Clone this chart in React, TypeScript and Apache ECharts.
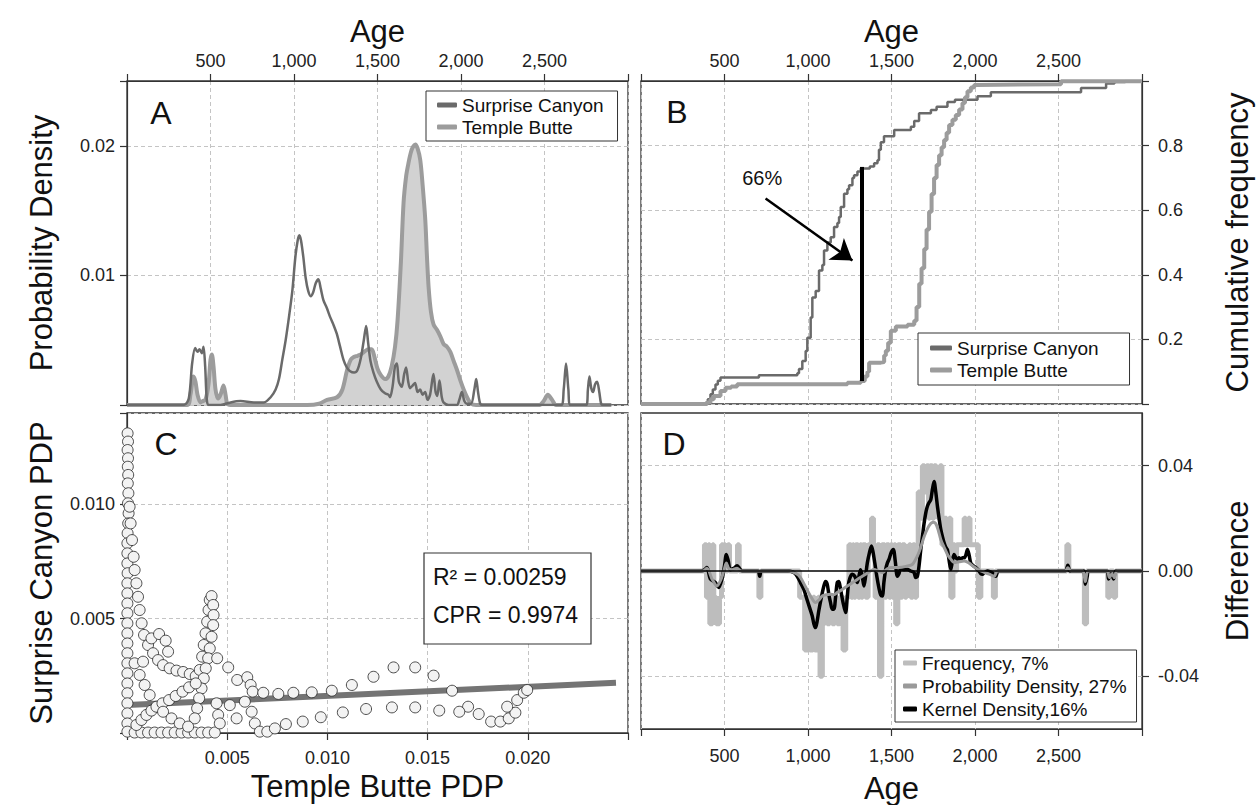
import React, { useEffect, useRef } from 'react';
import * as echarts from 'echarts';

const FONT = '"Liberation Sans", Arial, Helvetica, sans-serif';

// ---------- Panel A : probability density (age vs density) ----------
const SC_PDP_AGE = [0, 340, 370, 390, 408, 422, 434, 448, 458, 468, 478, 490, 560, 620, 680, 760, 820, 860, 890, 910, 930, 950, 970, 990, 1008, 1022, 1032, 1042, 1055, 1070, 1085, 1100, 1115, 1130, 1146, 1160, 1176, 1196, 1216, 1236, 1256, 1276, 1296, 1316, 1336, 1360, 1380, 1400, 1418, 1432, 1444, 1458, 1476, 1496, 1520, 1545, 1565, 1575, 1590, 1605, 1616, 1628, 1645, 1660, 1671, 1684, 1695, 1710, 1725, 1740, 1755, 1770, 1785, 1800, 1815, 1835, 1848, 1858, 1871, 1885, 1895, 1925, 1975, 1990, 2005, 2020, 2035, 2060, 2080, 2091, 2102, 2115, 2130, 2600, 2615, 2629, 2643, 2655, 2750, 2760, 2769, 2780, 2791, 2803, 2815, 2828, 2839, 2850, 2900];
const SC_PDP_VAL = [0, 0, 0.0005, 0.0032, 0.0044, 0.0041, 0.0043, 0.004, 0.0045, 0.003, 0.0004, 0, 0, 0.0002, 0.0003, 0.0002, 0.0002, 0.0006, 0.0012, 0.002, 0.0035, 0.005, 0.0068, 0.0088, 0.0114, 0.0127, 0.0131, 0.0127, 0.0115, 0.0098, 0.0088, 0.0084, 0.0087, 0.0094, 0.0097, 0.009, 0.0081, 0.0075, 0.0068, 0.0062, 0.0055, 0.0045, 0.0035, 0.0029, 0.0026, 0.0025, 0.0027, 0.0036, 0.005, 0.0061, 0.0048, 0.0034, 0.0025, 0.0018, 0.0012, 0.0009, 0.0008, 0.0006, 0.0014, 0.003, 0.0032, 0.0018, 0.0014, 0.0024, 0.0029, 0.0018, 0.0013, 0.0015, 0.0017, 0.001, 0.0012, 0.0008, 0.001, 0.0004, 0.0008, 0.0024, 0.001, 0.0007, 0.0019, 0.0006, 0.0002, 0, 0, 0.0004, 0.001, 0.0003, 0.0001, 0.0001, 0.0012, 0.002, 0.001, 0.0001, 0, 0, 0.0012, 0.0032, 0.0012, 0, 0, 0.0012, 0.0022, 0.0013, 0.001, 0.0016, 0.0018, 0.001, 0.0001, 0, 0];
const TB_PDP_AGE = [0, 360, 380, 398, 410, 422, 440, 454, 470, 488, 500, 508, 518, 530, 545, 560, 578, 590, 600, 620, 1080, 1150, 1198, 1258, 1290, 1318, 1340, 1358, 1380, 1400, 1420, 1446, 1465, 1480, 1500, 1520, 1545, 1565, 1585, 1605, 1620, 1640, 1656, 1672, 1686, 1700, 1712, 1726, 1740, 1756, 1770, 1786, 1796, 1806, 1820, 1836, 1856, 1876, 1896, 1916, 1936, 1956, 1976, 1996, 2016, 2040, 2060, 2090, 2470, 2495, 2520, 2545, 2570, 2900];
const TB_PDP_VAL = [0, 0, 0.0008, 0.0022, 0.0018, 0.0008, 0.0002, 0.0003, 0.0004, 0.0016, 0.0035, 0.0039, 0.003, 0.0012, 0.0005, 0.0008, 0.0015, 0.0008, 0.0001, 0, 0, 0.0001, 0.0004, 0.0006, 0.0012, 0.0027, 0.0035, 0.0037, 0.0038, 0.0039, 0.0041, 0.0043, 0.0043, 0.0038, 0.0028, 0.0023, 0.002, 0.0022, 0.003, 0.0045, 0.0065, 0.011, 0.0156, 0.0177, 0.0187, 0.0195, 0.0199, 0.0201, 0.0198, 0.0189, 0.017, 0.0143, 0.0115, 0.0091, 0.0072, 0.0062, 0.0058, 0.0053, 0.0047, 0.0045, 0.0041, 0.0034, 0.0027, 0.0019, 0.0012, 0.0005, 0.0001, 0, 0, 0.0003, 0.0008, 0.0004, 0, 0];

// ---------- Panel B : cumulative frequency ----------
const SC_CDF_AGE = [0, 386, 400, 416, 430, 446, 460, 476, 706, 936, 946, 966, 986, 996, 1016, 1026, 1046, 1066, 1086, 1096, 1116, 1136, 1156, 1176, 1186, 1196, 1216, 1236, 1246, 1266, 1276, 1296, 1316, 1370, 1396, 1416, 1425, 1436, 1455, 1516, 1616, 1636, 1665, 1736, 1770, 1835, 1880, 2015, 2095, 2635, 2785, 2835, 2900, 3000];
const SC_CDF_VAL = [0, 0.004, 0.015, 0.03, 0.045, 0.06, 0.072, 0.082, 0.089, 0.095, 0.108, 0.133, 0.164, 0.205, 0.268, 0.33, 0.35, 0.413, 0.43, 0.475, 0.5, 0.516, 0.548, 0.56, 0.579, 0.61, 0.651, 0.665, 0.677, 0.7, 0.708, 0.72, 0.729, 0.735, 0.745, 0.755, 0.787, 0.81, 0.829, 0.848, 0.858, 0.876, 0.9, 0.91, 0.92, 0.935, 0.942, 0.953, 0.965, 0.978, 0.992, 0.997, 1, 1];
const TB_CDF_AGE = [0, 396, 416, 436, 476, 506, 540, 576, 1236, 1316, 1340, 1356, 1366, 1436, 1456, 1466, 1480, 1496, 1526, 1596, 1636, 1650, 1666, 1680, 1696, 1710, 1725, 1740, 1755, 1770, 1785, 1800, 1815, 1830, 1845, 1865, 1885, 1905, 1925, 1940, 1955, 1975, 1995, 2015, 2515, 3000];
const TB_CDF_VAL = [0, 0.005, 0.015, 0.025, 0.04, 0.05, 0.054, 0.061, 0.066, 0.071, 0.085, 0.1, 0.128, 0.13, 0.15, 0.165, 0.19, 0.227, 0.24, 0.245, 0.258, 0.3, 0.372, 0.42, 0.48, 0.54, 0.595, 0.65, 0.7, 0.74, 0.77, 0.795, 0.817, 0.84, 0.864, 0.88, 0.895, 0.912, 0.932, 0.95, 0.968, 0.98, 0.988, 0.99, 0.999, 1];
const KS_AGE = 1320;
const KS_LOW = 0.071;
const KS_HIGH = 0.734;
const KS_LABEL = '66%';
const KS_LABEL_AT = [726, 0.7];
const ARROW_FROM = [746, 0.636];
const ARROW_TO = [1266, 0.444];

// ---------- Panel C : Temple Butte PDP vs Surprise Canyon PDP ----------
const C_TB_PDP = [
  0.00003, 0.00005, 0.00003, 0.00005, 0.00004, 0.00006, 0.00004, 0.00007, 0.00005, 0.00008, 0.00006, 0.00003, 0.00002, 0.00002, 0.00002, 0.00003, 0.00002, 0.00002, 0.00002, 0.00002, 0.00002, 0.00002, 0.00002, 0.00002, 0.00002, 0.00002, 0.00002, 0.00002, 0.00002, 0.00002, 0.00002, 0.00002,
  0.00013, 0.00018, 0.00025, 0.00033, 0.00038, 0.00047, 0.00055, 0.00063, 0.00073, 0.00085, 0.00105, 0.0013, 0.00155, 0.0018, 0.00213, 0.00247, 0.0028, 0.00313, 0.00343,
  0.00363, 0.00375, 0.00383, 0.00392, 0.004, 0.00407, 0.00413, 0.00422, 0.0043, 0.00432, 0.0043, 0.00422, 0.00413, 0.00405, 0.00393, 0.00383, 0.00372, 0.0036, 0.0035, 0.00338,
  0.00038, 0.00072, 0.00105, 0.00138, 0.00172, 0.00205, 0.00238, 0.00272, 0.00305, 0.00338, 0.00372, 0.00405, 0.00438,
  0.00047, 0.00072, 0.00097, 0.00122, 0.00147, 0.00177, 0.0021, 0.00243, 0.00277, 0.0031, 0.00343,
  0.00038, 0.00063, 0.00088, 0.00113, 0.0018, 0.00222, 0.00263, 0.00305,
  0.00122, 0.0016, 0.00193, 0.00205, 0.0008,
  0.0045, 0.00505, 0.0055, 0.006, 0.00617, 0.00627, 0.0068, 0.00755, 0.0083, 0.00922, 0.01022, 0.01122, 0.0123, 0.0133, 0.01438, 0.0153, 0.01622, 0.01702, 0.01755, 0.01817, 0.01863, 0.01905, 0.01938, 0.01947, 0.0198, 0.01997, 0.01897,
  0.00447, 0.00455, 0.00463, 0.00513, 0.00547, 0.00588, 0.00622, 0.00638, 0.00663, 0.007, 0.00738, 0.00793, 0.00877, 0.00967, 0.01077, 0.01193, 0.01322, 0.01438, 0.01558, 0.01658,
];
const C_SC_PDP = [
  0.01311, 0.01275, 0.01238, 0.01202, 0.01165, 0.01129, 0.01092, 0.01049, 0.01005, 0.00961, 0.00917, 0.00874, 0.0083, 0.00786, 0.00742, 0.00699, 0.00655, 0.00611, 0.00567, 0.00524, 0.0048, 0.00436, 0.00392, 0.00349, 0.00305, 0.00261, 0.00217, 0.00174, 0.0013, 0.00086, 0.00042, 0.00006,
  0.0099, 0.00917, 0.00844, 0.00771, 0.00713, 0.00655, 0.00596, 0.00538, 0.0048, 0.00429, 0.00385, 0.00349, 0.00319, 0.00297, 0.00283, 0.00273, 0.00267, 0.00258, 0.00249,
  0.00276, 0.00334, 0.00385, 0.00436, 0.00487, 0.00538, 0.00582, 0.00599, 0.0056, 0.00516, 0.00472, 0.00421, 0.0037, 0.00327, 0.00283, 0.00239, 0.00195, 0.00152, 0.00108, 0.00064,
  0.00002, 0.00002, 0.00002, 0.00002, 0.00002, 0.00002, 0.00002, 0.00002, 0.00002, 0.00002, 0.00002, 0.00002, 0.00002,
  0.00035, 0.00057, 0.00079, 0.00098, 0.00115, 0.0013, 0.00144, 0.00162, 0.00181, 0.002, 0.00217,
  0.00305, 0.00254, 0.0021, 0.00166, 0.00093, 0.00064, 0.00042, 0.00028,
  0.00414, 0.00433, 0.00404, 0.00356, 0.00312,
  0.00327, 0.00287, 0.00232, 0.00244, 0.0021, 0.00181, 0.00176, 0.00171, 0.00176, 0.00178, 0.00185, 0.0021, 0.00246, 0.00287, 0.00287, 0.00251, 0.00185, 0.00115, 0.00083, 0.0005, 0.0005, 0.00064, 0.00089, 0.00144, 0.00176, 0.00188, 0.00115,
  0.0013, 0.00079, 0.00042, 0.00122, 0.00064, 0.00137, 0.00093, 0.00042, 0.00006, 0.00006, 0.0002, 0.00039, 0.0005, 0.00069, 0.0009, 0.00105, 0.00112, 0.00112, 0.00098, 0.00093,
];
const REG_X = [0, 0.0244];
const REG_Y = [0.00122, 0.0022];
const R2_TEXT = 'R² = 0.00259';
const CPR_TEXT = 'CPR = 0.9974';

// ---------- Panel D : differences ----------
const FREQ_AGE = [0, 380, 392, 404, 412, 428, 436, 450, 470, 482, 490, 496, 506, 520, 530, 578, 588, 706, 718, 950, 980, 1000, 1010, 1030, 1040, 1060, 1072, 1086, 1100, 1115, 1130, 1145, 1160, 1175, 1190, 1210, 1226, 1245, 1258, 1268, 1275, 1285, 1300, 1312, 1320, 1328, 1345, 1360, 1380, 1392, 1402, 1415, 1428, 1442, 1460, 1470, 1485, 1495, 1505, 1515, 1525, 1538, 1555, 1565, 1580, 1590, 1605, 1615, 1628, 1640, 1650, 1660, 1672, 1685, 1698, 1710, 1722, 1730, 1745, 1755, 1768, 1780, 1790, 1802, 1815, 1830, 1845, 1855, 1868, 1880, 1890, 1935, 1945, 1960, 1970, 2020, 2035, 2110, 2122, 2550, 2562, 2655, 2668, 2795, 2807, 2830, 2842, 3000];
const FREQ_VAL = [0, 0.01, -0.01, 0.01, -0.02, 0.01, -0.01, -0.02, -0.01, 0.01, 0, 0.01, 0, 0.01, 0, 0.01, 0, -0.01, 0, -0.01, -0.03, -0.01, -0.03, -0.01, -0.03, -0.01, -0.04, -0.02, -0.01, -0.02, -0.01, -0.02, -0.01, -0.02, -0.01, -0.03, -0.01, 0.01, -0.01, 0.01, -0.01, 0.01, -0.01, 0.01, -0.01, 0.01, -0.01, 0.01, 0.02, 0.01, -0.01, 0.01, -0.04, 0.01, -0.01, 0.01, -0.01, 0.01, -0.01, 0.01, -0.02, 0.01, -0.01, 0.01, -0.01, 0, 0.01, -0.01, 0.01, -0.01, 0.01, 0.03, 0.02, 0.04, 0.03, 0.04, 0.02, 0.04, 0.02, 0.04, 0.03, 0.02, 0.04, 0.01, 0.02, 0.01, 0.02, -0.01, 0.01, 0, 0.01, 0.02, 0.01, 0.02, 0.01, -0.01, 0, -0.01, 0, 0.01, 0, -0.02, 0, -0.01, 0, -0.01, 0, 0];
const PDPD_AGE = [0, 370, 395, 425, 455, 480, 500, 511, 525, 545, 575, 600, 880, 930, 955, 985, 1015, 1045, 1065, 1085, 1110, 1135, 1155, 1175, 1205, 1235, 1265, 1295, 1325, 1355, 1375, 1395, 1420, 1445, 1470, 1495, 1545, 1595, 1625, 1655, 1675, 1695, 1715, 1735, 1750, 1765, 1780, 1795, 1815, 1835, 1855, 1875, 1905, 1935, 1965, 1995, 2025, 2055, 2085, 2115, 2135, 2540, 2556, 2575, 2645, 2660, 2680, 2790, 2805, 2820, 2835, 2850, 3000];
const PDPD_VAL = [0, 0, 0.001, -0.003, -0.0057, -0.003, 0.001, 0.003, 0.001, 0.0005, 0.001, 0, 0, -0.001, -0.0025, -0.006, -0.0095, -0.012, -0.011, -0.0095, -0.009, -0.0088, -0.009, -0.0082, -0.007, -0.0057, -0.0045, -0.0032, -0.002, -0.0008, 0, 0.0006, 0, -0.0006, 0.0006, 0.0013, 0.0013, 0.0019, 0.0025, 0.0057, 0.009, 0.013, 0.016, 0.018, 0.0185, 0.018, 0.0155, 0.012, 0.009, 0.0063, 0.0045, 0.0032, 0.0035, 0.0038, 0.003, 0.0015, 0.0003, -0.0005, -0.0012, -0.002, 0, 0, 0.0012, 0, 0, -0.004, 0, 0, -0.0025, -0.001, -0.0025, 0, 0];
const KDED_AGE = [0, 360, 380, 395, 415, 445, 465, 485, 500, 511, 522, 535, 555, 575, 590, 605, 700, 711, 722, 880, 915, 935, 955, 975, 995, 1010, 1025, 1035, 1045, 1055, 1065, 1080, 1095, 1105, 1115, 1125, 1135, 1145, 1155, 1165, 1175, 1185, 1195, 1210, 1225, 1235, 1245, 1265, 1280, 1295, 1305, 1315, 1325, 1335, 1345, 1355, 1368, 1380, 1390, 1400, 1412, 1425, 1435, 1445, 1455, 1465, 1475, 1485, 1498, 1511, 1522, 1535, 1545, 1555, 1575, 1595, 1615, 1635, 1645, 1655, 1665, 1675, 1685, 1695, 1705, 1715, 1725, 1735, 1745, 1755, 1765, 1775, 1785, 1795, 1805, 1815, 1825, 1835, 1845, 1855, 1865, 1875, 1885, 1895, 1905, 1915, 1925, 1935, 1945, 1955, 1965, 1975, 1990, 2005, 2020, 2035, 2045, 2055, 2075, 2110, 2125, 2140, 2540, 2556, 2570, 2650, 2660, 2672, 2680, 2790, 2800, 2815, 2830, 2845, 3000];
const KDED_VAL = [0, 0, 0.0005, 0.0013, -0.003, -0.0044, -0.0063, -0.003, 0.002, 0.0063, 0.004, 0.0005, 0.001, 0.002, 0.001, 0, 0, -0.002, 0, 0, -0.0006, -0.002, -0.0044, -0.007, -0.011, -0.014, -0.017, -0.02, -0.0215, -0.019, -0.015, -0.01, -0.0057, -0.004, -0.005, -0.009, -0.012, -0.0145, -0.0145, -0.01, -0.0044, -0.004, -0.007, -0.012, -0.0158, -0.01, -0.004, -0.0012, -0.002, -0.0044, -0.002, 0.0005, -0.002, -0.0057, -0.002, 0.003, 0.007, 0.0095, 0.007, 0.003, -0.002, -0.0065, -0.009, -0.0095, -0.004, 0.0005, 0.003, 0.0044, 0.007, 0.0082, 0.004, -0.002, -0.001, 0.001, 0.0005, 0.0006, 0, -0.0006, -0.0025, -0.002, 0.002, 0.008, 0.013, 0.018, 0.022, 0.0246, 0.026, 0.027, 0.031, 0.034, 0.03, 0.0246, 0.02, 0.0158, 0.013, 0.0107, 0.009, 0.008, 0.004, 0.0006, 0.004, 0.0063, 0.005, 0.0045, 0.005, 0.0044, 0.005, 0.005, 0.006, 0.0082, 0.006, 0.003, 0.002, 0.0013, 0.0003, -0.001, -0.0012, -0.0006, 0, -0.001, -0.002, 0, 0, 0.0022, 0, 0, -0.005, -0.002, 0, 0, -0.003, -0.001, -0.003, 0, 0];

// ---------- axes ----------
const AGE_LABELS = [500, 1000, 1500, 2000, 2500];
const A_Y_LABELS = [0.01, 0.02];
const B_Y_LABELS = [0.2, 0.4, 0.6, 0.8];
const C_X_LABELS = [0.005, 0.01, 0.015, 0.02];
const C_Y_LABELS = [0.005, 0.01];
const D_Y_LABELS = [-0.04, 0, 0.04];

const pairs = (xs: number[], ys: number[]) => xs.map((x, i) => [x, ys[i]]);
const has = (list: number[], v: number) => list.some((t) => Math.abs(t - v) < 1e-9);
const fmtAge = (v: number) => {
  if (!has(AGE_LABELS, v)) return '';
  const r = Math.round(v);
  return r >= 1000 ? `${Math.floor(r / 1000)},${String(r % 1000).padStart(3, '0')}` : String(r);
};
const fmtList = (list: number[], d: number) => (v: number) => (has(list, v) ? v.toFixed(d) : '');

const C_DARK = '#6a6a6a';
const C_LIGHT = '#9c9c9c';

const axisBase = (extra: any) => ({
  type: 'value',
  axisLine: { show: true, onZero: false, lineStyle: { color: '#333', width: 1.2 } },
  axisTick: { show: true, length: 7, lineStyle: { color: '#333', width: 1.2 } },
  axisLabel: { color: '#222', fontSize: 18, fontFamily: FONT, margin: 14 },
  splitLine: { show: true, lineStyle: { color: '#c4c4c4', type: [4, 3], width: 1 } },
  nameLocation: 'middle',
  nameMoveOverlap: false,
  nameTextStyle: { fontSize: 31, fontFamily: FONT, color: '#111' },
  ...extra,
});
const topName = { fontSize: 31, fontFamily: FONT, color: '#111', lineHeight: 27 };
const topLabel = { color: '#222', fontSize: 18, fontFamily: FONT, margin: 11, lineHeight: 18, formatter: fmtAge };

export default function App() {
  const ref = useRef<HTMLDivElement>(null);
  useEffect(() => {
    if (!ref.current) return;
    const chart = echarts.init(ref.current, null, { renderer: 'svg' });
    const legendText = { fontSize: 19, fontFamily: FONT, color: '#111', lineHeight: 20 };
    const option: any = {
      animation: false,
      backgroundColor: '#fff',
      grid: [
        { left: 127, top: 81, width: 501, height: 324, show: true, borderColor: '#333', borderWidth: 1.3 },
        { left: 641, top: 81, width: 501, height: 323, show: true, borderColor: '#333', borderWidth: 1.3 },
        { left: 127, top: 413, width: 501, height: 320, show: true, borderColor: '#333', borderWidth: 1.3 },
        { left: 641, top: 413, width: 501, height: 318, show: true, borderColor: '#333', borderWidth: 1.3 },
      ],
      xAxis: [
        axisBase({ gridIndex: 0, position: 'top', min: 0, max: 3000, interval: 500, name: 'Age', nameGap: 36, nameTextStyle: topName, axisLabel: topLabel }),
        axisBase({ gridIndex: 1, position: 'top', min: 0, max: 3000, interval: 500, name: 'Age', nameGap: 36, nameTextStyle: topName, axisLabel: topLabel }),
        axisBase({ gridIndex: 2, position: 'bottom', min: 0, max: 0.025, interval: 0.005, name: 'Temple Butte PDP', nameGap: 38, axisLabel: { color: '#222', fontSize: 18, fontFamily: FONT, margin: 16, formatter: fmtList(C_X_LABELS, 3) } }),
        axisBase({ gridIndex: 3, position: 'bottom', min: 0, max: 3000, interval: 500, name: 'Age', nameGap: 44, axisLabel: { color: '#222', fontSize: 18, fontFamily: FONT, margin: 18, formatter: fmtAge } }),
      ],
      yAxis: [
        axisBase({ gridIndex: 0, position: 'left', min: 0, max: 0.025, interval: 0.01, name: 'Probability Density', nameGap: 70, nameRotate: 90, axisLabel: { color: '#222', fontSize: 18, fontFamily: FONT, margin: 12, formatter: fmtList(A_Y_LABELS, 2) } }),
        axisBase({ gridIndex: 1, position: 'right', min: 0, max: 1, interval: 0.2, name: 'Cumulative frequency', nameGap: 80, nameRotate: 90, axisLabel: { color: '#222', fontSize: 18, fontFamily: FONT, margin: 16, formatter: fmtList(B_Y_LABELS, 1) } }),
        axisBase({ gridIndex: 2, position: 'left', min: 0, max: 0.014, interval: 0.005, name: 'Surprise Canyon PDP', nameGap: 70, nameRotate: 90, axisLabel: { color: '#222', fontSize: 18, fontFamily: FONT, margin: 12, formatter: fmtList(C_Y_LABELS, 3) } }),
        axisBase({
          gridIndex: 3, position: 'right', min: -0.06, max: 0.06, interval: 0.02, name: 'Difference', nameGap: 80, nameRotate: 90,
          axisLabel: { color: '#222', fontSize: 18, fontFamily: FONT, margin: 16, customValues: D_Y_LABELS, formatter: fmtList(D_Y_LABELS, 2) },
          axisTick: { show: true, length: 7, customValues: D_Y_LABELS, lineStyle: { color: '#333', width: 1.2 } },
          splitLine: { show: false },
        }),
      ],
      legend: [
        {
          data: ['Surprise Canyon', 'Temple Butte'], left: 426, top: 91, orient: 'vertical', selectedMode: false,
          icon: 'roundRect', itemWidth: 20, itemHeight: 5, itemGap: 2, padding: [4, 14, 4, 11],
          borderColor: '#333', borderWidth: 1, backgroundColor: '#fff', textStyle: legendText,
        },
        {
          data: ['Surprise Canyon', 'Temple Butte'], left: 918, top: 333, orient: 'vertical', selectedMode: false,
          icon: 'roundRect', itemWidth: 22, itemHeight: 5, itemGap: 2, padding: [5, 31, 5, 12],
          borderColor: '#333', borderWidth: 1, backgroundColor: '#fff', textStyle: legendText,
        },
        {
          data: ['Frequency, 7%', 'Probability Density, 27%', 'Kernel Density,16%'], left: 895, top: 650, orient: 'vertical', selectedMode: false,
          icon: 'roundRect', itemWidth: 14, itemHeight: 5, itemGap: 3, padding: [3, 10, 3, 8],
          borderColor: '#333', borderWidth: 1, backgroundColor: '#fff', textStyle: legendText,
        },
      ],
      series: [
        // Panel A
        {
          name: 'Temple Butte', type: 'line', xAxisIndex: 0, yAxisIndex: 0, data: pairs(TB_PDP_AGE, TB_PDP_VAL),
          showSymbol: false, smooth: 0.3, z: 2, color: C_LIGHT,
          lineStyle: { color: C_LIGHT, width: 4 }, areaStyle: { color: '#d2d2d2', opacity: 1 },
        },
        {
          name: 'Surprise Canyon', type: 'line', xAxisIndex: 0, yAxisIndex: 0, data: pairs(SC_PDP_AGE, SC_PDP_VAL),
          showSymbol: false, smooth: 0.3, z: 3, color: C_DARK, lineStyle: { color: C_DARK, width: 2.5 },
        },
        // Panel B
        {
          name: 'Surprise Canyon', type: 'line', xAxisIndex: 1, yAxisIndex: 1, data: pairs(SC_CDF_AGE, SC_CDF_VAL),
          step: 'end', showSymbol: false, z: 2, color: C_DARK, lineStyle: { color: C_DARK, width: 2.5 },
        },
        {
          name: 'Temple Butte', type: 'line', xAxisIndex: 1, yAxisIndex: 1, data: pairs(TB_CDF_AGE, TB_CDF_VAL),
          step: 'end', showSymbol: false, z: 3, color: C_LIGHT, lineStyle: { color: C_LIGHT, width: 4 },
          markLine: {
            silent: true, symbol: ['none', 'none'], label: { show: false }, z: 10,
            data: [
              [
                { coord: [KS_AGE, KS_LOW], lineStyle: { color: '#000', width: 4, type: 'solid' } },
                { coord: [KS_AGE, KS_HIGH], lineStyle: { color: '#000', width: 4, type: 'solid' } },
              ],
              [
                { coord: ARROW_FROM, symbol: 'none', lineStyle: { color: '#000', width: 2.5, type: 'solid' } },
                { coord: ARROW_TO, symbol: 'arrow', symbolSize: 20, lineStyle: { color: '#000', width: 2.5, type: 'solid' } },
              ],
            ],
          },
          markPoint: {
            silent: true, symbol: 'circle', symbolSize: 1, itemStyle: { color: 'rgba(0,0,0,0)' },
            label: { show: true, position: 'inside', formatter: KS_LABEL, fontSize: 20, fontFamily: FONT, color: '#111' },
            data: [{ coord: KS_LABEL_AT }],
          },
        },
        // Panel C
        {
          name: 'Regression', type: 'line', xAxisIndex: 2, yAxisIndex: 2, data: pairs(REG_X, REG_Y),
          showSymbol: false, z: 2, lineStyle: { color: '#747474', width: 6 },
        },
        {
          name: 'PDP pairs', type: 'scatter', xAxisIndex: 2, yAxisIndex: 2, data: pairs(C_TB_PDP, C_SC_PDP),
          symbol: 'circle', symbolSize: 11, z: 3,
          itemStyle: { color: '#f3f3f3', borderColor: '#222', borderWidth: 0.8, opacity: 1 },
        },
        // Panel D
        {
          name: 'Frequency, 7%', type: 'line', xAxisIndex: 3, yAxisIndex: 3, data: pairs(FREQ_AGE, FREQ_VAL),
          step: 'end', showSymbol: false, z: 2, color: '#bdbdbd', lineStyle: { color: '#bdbdbd', width: 5 },
          markLine: {
            silent: true, symbol: ['none', 'none'], label: { show: false }, z: 1,
            lineStyle: { color: '#c4c4c4', type: [4, 3], width: 1 },
            data: [{ yAxis: 0.04 }, { yAxis: -0.04 }],
          },
        },
        {
          name: 'Kernel Density,16%', type: 'line', xAxisIndex: 3, yAxisIndex: 3, data: pairs(KDED_AGE, KDED_VAL),
          showSymbol: false, smooth: 0.3, z: 3, color: '#000', lineStyle: { color: '#000', width: 3.5 },
        },
        {
          name: 'Probability Density, 27%', type: 'line', xAxisIndex: 3, yAxisIndex: 3, data: pairs(PDPD_AGE, PDPD_VAL),
          showSymbol: false, smooth: 0.3, z: 4, color: '#9a9a9a', lineStyle: { color: '#9a9a9a', width: 3 },
          markLine: {
            silent: true, symbol: ['none', 'none'], label: { show: false }, z: 10,
            lineStyle: { color: '#000', type: 'solid', width: 1.5 },
            data: [{ yAxis: 0 }],
          },
        },
      ],
      graphic: [
        { type: 'text', x: 161, y: 113, z: 20, style: { text: 'A', fontSize: 32, fontFamily: FONT, fill: '#111', align: 'center', verticalAlign: 'middle', textAlign: 'center', textVerticalAlign: 'middle' } },
        { type: 'text', x: 677, y: 112, z: 20, style: { text: 'B', fontSize: 32, fontFamily: FONT, fill: '#111', align: 'center', verticalAlign: 'middle', textAlign: 'center', textVerticalAlign: 'middle' } },
        { type: 'text', x: 166, y: 444, z: 20, style: { text: 'C', fontSize: 32, fontFamily: FONT, fill: '#111', align: 'center', verticalAlign: 'middle', textAlign: 'center', textVerticalAlign: 'middle' } },
        { type: 'text', x: 674, y: 444, z: 20, style: { text: 'D', fontSize: 32, fontFamily: FONT, fill: '#111', align: 'center', verticalAlign: 'middle', textAlign: 'center', textVerticalAlign: 'middle' } },
        { type: 'rect', z: 20, shape: { x: 424, y: 553, width: 167, height: 91 }, style: { fill: '#fff', stroke: '#333', lineWidth: 1.2 } },
        { type: 'text', x: 433, y: 577, z: 21, style: { text: R2_TEXT, fontSize: 23, fontFamily: FONT, fill: '#111', align: 'left', verticalAlign: 'middle', textAlign: 'left', textVerticalAlign: 'middle' } },
        { type: 'text', x: 433, y: 615, z: 21, style: { text: CPR_TEXT, fontSize: 23, fontFamily: FONT, fill: '#111', align: 'left', verticalAlign: 'middle', textAlign: 'left', textVerticalAlign: 'middle' } },
      ],
    };
    chart.setOption(option);
    return () => chart.dispose();
  }, []);
  return <div ref={ref} style={{ position: 'absolute', left: 0, top: 0, width: 1256, height: 805 }} />;
}
